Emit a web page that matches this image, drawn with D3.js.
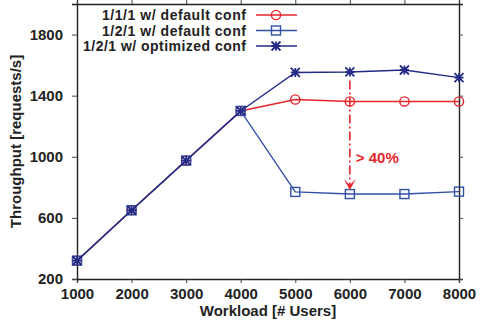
<!DOCTYPE html>
<html>
<head>
<meta charset="utf-8">
<script src="https://cdn.jsdelivr.net/npm/d3@7"></script>
<style>
  body { margin: 0; background: #fff; }
  text { font-family: "Liberation Sans", Arial, sans-serif; font-weight: bold; }
</style>
</head>
<body>
<div id="chart"></div>
<script>
// data
const workload = [1000, 2000, 3000, 4000, 5000, 6000, 7000, 8000];
const conf111Default = [320, 650, 975, 1300, 1375, 1362, 1362, 1362];
const conf121Default = [320, 650, 975, 1300, 770, 756, 756, 772];
const conf121Optimized = [320, 650, 975, 1300, 1552, 1555, 1568, 1518];
const yTicks = [200, 600, 1000, 1400, 1800];
const seriesNames = ["1/1/1 w/ default conf", "1/2/1 w/ default conf", "1/2/1 w/ optimized conf"];
const arrowFrom = 1500, arrowTo = 782, arrowLabelAt = 960;

const W = 485, H = 327;
const margin = {top: 4, right: 26, bottom: 48, left: 77};
const width = W - margin.left - margin.right;
const height = H - margin.top - margin.bottom;

const svg = d3.select("#chart").append("svg")
    .attr("width", W).attr("height", H)
  .append("g")
    .attr("transform", "translate(" + margin.left + "," + margin.top + ")");

const x = d3.scaleLinear().domain([1000, 8000]).range([0, width]);
const y = d3.scaleLinear().domain([200, 2000]).range([height, 0]);

// axes (frame on all 4 sides, ticks outward)
svg.append("g").attr("transform", "translate(0," + height + ")")
    .call(d3.axisBottom(x).tickValues(workload).tickFormat(d3.format("d")).tickSize(4).tickPadding(5));
svg.append("g")
    .call(d3.axisLeft(y).tickValues(yTicks).tickFormat(d3.format("d")).tickSize(5).tickPadding(9));
svg.append("g").call(d3.axisTop(x).tickValues(workload).tickFormat("").tickSize(4));
svg.append("g").attr("transform", "translate(" + width + ",0)")
    .call(d3.axisRight(y).tickValues(yTicks).tickFormat("").tickSize(4));

svg.selectAll(".domain").attr("stroke", "#222").attr("stroke-width", 1.4);
svg.selectAll(".tick line").attr("stroke", "#444");
svg.selectAll(".tick text").attr("font-size", 15).attr("fill", "#222")
    .attr("font-family", "Liberation Sans, Arial, sans-serif").attr("font-weight", "bold");

// axis titles
svg.append("text")
    .attr("x", width / 2).attr("y", height + 37)
    .attr("text-anchor", "middle").attr("font-size", 15).attr("fill", "#222")
    .text("Workload [# Users]");
svg.append("text")
    .attr("transform", "translate(" + (-56) + "," + (height / 2) + ") rotate(-90)")
    .attr("text-anchor", "middle").attr("font-size", 15).attr("fill", "#222")
    .text("Throughput [requests/s]");

const colors = ["#e5252b", "#3150a5", "#232b86"];
const series = [conf111Default, conf121Default, conf121Optimized];

const line = d3.line().x((d, i) => x(workload[i])).y(d => y(d));

function drawMarker(g, type, cx, cy, color) {
  if (type === 0) {
    g.append("circle").attr("cx", cx).attr("cy", cy).attr("r", 4.6)
      .attr("fill", "none").attr("stroke", color).attr("stroke-width", 1.4);
  } else if (type === 1) {
    g.append("rect").attr("x", cx - 4.5).attr("y", cy - 4.5).attr("width", 9).attr("height", 9)
      .attr("fill", "none").attr("stroke", color).attr("stroke-width", 1.4);
  } else {
    const s = 4.5;
    const p = "M" + (cx - s) + "," + cy + "H" + (cx + s) +
      "M" + cx + "," + (cy - s) + "V" + (cy + s) +
      "M" + (cx - s) + "," + (cy - s) + "L" + (cx + s) + "," + (cy + s) +
      "M" + (cx - s) + "," + (cy + s) + "L" + (cx + s) + "," + (cy - s);
    g.append("path").attr("d", p).attr("stroke", color).attr("stroke-width", 1.8).attr("fill", "none");
  }
}

series.forEach((vals, k) => {
  const g = svg.append("g");
  g.append("path").datum(vals).attr("d", line)
    .attr("fill", "none").attr("stroke", colors[k]).attr("stroke-width", 1.4);
  vals.forEach((v, i) => drawMarker(g, k, x(workload[i]), y(v), colors[k]));
});

// arrow annotation
const ax = x(6000);
const tipY = y(arrowTo);
svg.append("line")
    .attr("x1", ax).attr("x2", ax).attr("y1", y(arrowFrom)).attr("y2", tipY - 5)
    .attr("stroke", "#e5252b").attr("stroke-width", 1.6).attr("stroke-dasharray", "9,3,2,3");
svg.append("path")
    .attr("d", "M" + (ax - 6) + "," + (tipY - 11) + "L" + ax + "," + tipY + "L" + (ax + 6) + "," + (tipY - 11) +
      "L" + ax + "," + (tipY - 5) + "Z")
    .attr("fill", "#e5252b");
svg.append("text")
    .attr("x", ax + 6).attr("y", y(arrowLabelAt))
    .attr("font-size", 15).attr("fill", "#e5252b")
    .text("> 40%");

// legend
const legend = svg.append("g");
seriesNames.forEach((name, k) => {
  const ly = 15 + k * 15.5 - margin.top;
  legend.append("text").attr("x", 246 - margin.left).attr("y", ly + 5)
    .attr("text-anchor", "end").attr("font-size", 14).attr("fill", "#222")
    .attr("textLength", [144, 144, 163][k]).attr("lengthAdjust", "spacing")
    .text(name);
  legend.append("line").attr("x1", 256 - margin.left).attr("x2", 297 - margin.left)
    .attr("y1", ly).attr("y2", ly).attr("stroke", colors[k]).attr("stroke-width", 1.4);
  drawMarker(legend, k, 276 - margin.left, ly, colors[k]);
});
</script>
</body>
</html>
